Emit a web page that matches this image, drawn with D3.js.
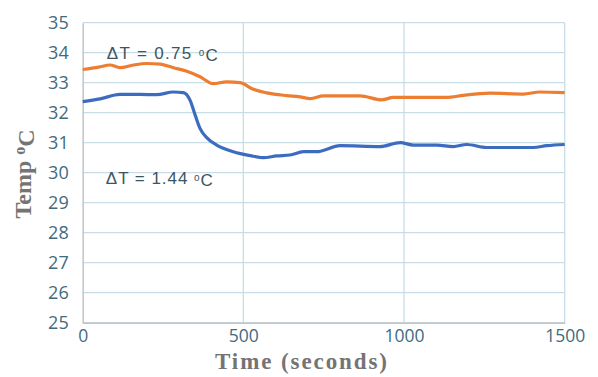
<!DOCTYPE html>
<html lang="en">
<head>
<meta charset="UTF-8">
<title>Temp vs Time</title>
<script src="https://d3js.org/d3.v7.min.js"></script>
<style>
  body { margin: 0; background: #fff; }
</style>
</head>
<body>
<svg width="598" height="377"></svg>
<script>
// readings: [time in s, temp in °C]
var orangeTime = [0, 50, 85, 116, 158, 200, 241, 282, 324, 365, 406, 448, 490, 531, 573, 635, 676, 708, 749, 863, 931, 967, 1133, 1185, 1268, 1371, 1423, 1500];
var orangeTemp = [33.44, 33.52, 33.59, 33.5, 33.59, 33.64, 33.62, 33.5, 33.38, 33.2, 32.97, 33.03, 33.0, 32.78, 32.66, 32.57, 32.53, 32.47, 32.56, 32.56, 32.43, 32.51, 32.51, 32.58, 32.65, 32.62, 32.69, 32.67];
var blueTime = [0, 54, 116, 178, 230, 282, 313, 334, 350, 365, 386, 417, 469, 521, 562, 604, 645, 687, 728, 801, 925, 988, 1029, 1102, 1153, 1195, 1257, 1402, 1444, 1500];
var blueTemp = [32.37, 32.46, 32.61, 32.61, 32.6, 32.69, 32.67, 32.42, 31.92, 31.48, 31.17, 30.92, 30.7, 30.57, 30.5, 30.56, 30.59, 30.7, 30.7, 30.9, 30.87, 31.0, 30.92, 30.92, 30.87, 30.94, 30.84, 30.84, 30.9, 30.94];
var xTicks = [0, 500, 1000, 1500];
var yTicks = [25, 26, 27, 28, 29, 30, 31, 32, 33, 34, 35];
var notes = [
  { text: "\u0394T = 0.75 ", t: 75, v: 34.0, w: 111 },
  { text: "\u0394T = 1.44 ", t: 72, v: 29.83, w: 107 }
];

var svg = d3.select("svg");
var plotL = 82.7, plotR = 564.7, plotT = 22.7, plotB = 322.7;

var x = d3.scaleLinear().domain([0, 1500]).range([plotL, plotR]);
var y = d3.scaleLinear().domain([25, 35]).range([plotB, plotT]);

// grid
svg.append("g").selectAll("line")
  .data(yTicks)
  .enter().append("line")
  .attr("x1", plotL).attr("x2", plotR)
  .attr("y1", d => y(d)).attr("y2", d => y(d))
  .style("stroke", "#c9dde6").style("stroke-width", 1.3);

svg.append("g").selectAll("line")
  .data(xTicks.slice(1))
  .enter().append("line")
  .attr("x1", d => x(d)).attr("x2", d => x(d))
  .attr("y1", plotT).attr("y2", plotB)
  .style("stroke", "#c9dde6").style("stroke-width", 1.3);

// axes
var xAxis = svg.append("g")
  .attr("transform", "translate(0," + plotB + ")")
  .call(d3.axisBottom(x).tickValues(xTicks).tickFormat(d3.format("d")).tickSize(0).tickPadding(7));
xAxis.select(".domain").style("stroke", "#c4c4c4").style("stroke-width", 1.5);
xAxis.selectAll("text")
  .style("font-family", "'Open Sans', sans-serif")
  .style("font-size", "17.5px")
  .style("fill", "#3f6b80");

var yAxis = svg.append("g")
  .attr("transform", "translate(" + plotL + ",0)")
  .call(d3.axisLeft(y).tickValues(yTicks).tickFormat(d3.format("d")).tickSize(0).tickPadding(14));
yAxis.select(".domain").style("stroke", "#c4c4c4").style("stroke-width", 1.5);
yAxis.selectAll("text")
  .style("font-family", "'Open Sans', sans-serif")
  .style("font-size", "18px")
  .style("fill", "#3f6b80");

// lines
var line = d3.line()
  .x(d => x(d[0]))
  .y(d => y(d[1]))
  .curve(d3.curveMonotoneX);

svg.append("path")
  .datum(d3.zip(orangeTime, orangeTemp))
  .attr("d", line)
  .style("fill", "none")
  .style("stroke", "#ed7d31")
  .style("stroke-width", 3.2);

svg.append("path")
  .datum(d3.zip(blueTime, blueTemp))
  .attr("d", line)
  .style("fill", "none")
  .style("stroke", "#3b6cc0")
  .style("stroke-width", 3.2);

// annotations
var ann = svg.selectAll("text.note")
  .data(notes)
  .enter().append("text")
  .attr("class", "note")
  .attr("x", d => x(d.t))
  .attr("y", d => y(d.v))
  .attr("dy", "0.36em")
  .attr("textLength", d => d.w)
  .attr("lengthAdjust", "spacing")
  .style("font-family", "'Liberation Sans', Arial, sans-serif")
  .style("font-size", "17px")
  .style("fill", "#3d5563");
ann.append("tspan").text(d => d.text);
ann.append("tspan").text("o").attr("dy", "-0.3em").style("font-size", "10px");
ann.append("tspan").text("C").attr("dy", "0.3em");

// axis titles
svg.append("text")
  .attr("x", 215)
  .attr("y", 369)
  .attr("textLength", 172)
  .attr("lengthAdjust", "spacing")
  .style("font-family", "'Liberation Serif', serif")
  .style("font-weight", "bold")
  .style("font-size", "23px")
  .style("fill", "#747474")
  .text("Time (seconds)");

var yt = svg.append("text")
  .attr("transform", "translate(31,174) rotate(-90)")
  .attr("text-anchor", "middle")
  .style("font-family", "'Liberation Serif', serif")
  .style("font-weight", "bold")
  .style("font-size", "24px")
  .style("fill", "#747474");
yt.append("tspan").text("Temp ");
yt.append("tspan").text("o").attr("dy", "-0.4em").style("font-size", "16px");
yt.append("tspan").text("C").attr("dy", "0.4em");
</script>
</body>
</html>
